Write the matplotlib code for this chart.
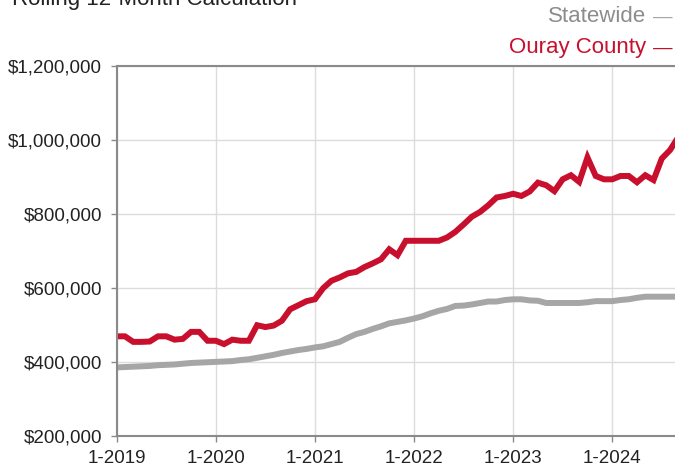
import matplotlib
matplotlib.use('Agg')
import matplotlib.pyplot as plt
from matplotlib.ticker import FuncFormatter

plt.rcParams['font.family'] = ['Liberation Sans', 'DejaVu Sans']

# monthly values, Jan 2019 .. Sep 2024 (rolling 12-month median price)
ouray = [470, 470, 455, 455, 456, 470, 470, 461, 463, 482, 482, 458,
         458, 449, 461, 458, 458, 500, 495, 499, 512, 543, 554, 565,
         570, 600, 620, 629, 640, 644, 657, 667, 678, 705, 689, 728,
         728, 728, 728, 728, 737, 752, 772, 793, 806, 824, 845, 849,
         855, 849, 861, 885, 878, 862, 894, 905, 887, 953, 903, 894,
         894, 903, 903, 886, 905, 892, 950, 973, 1008]
statewide = [386, 387, 388, 389, 390, 392, 393, 394, 396, 398, 399, 400,
             401, 402, 403, 406, 408, 412, 416, 420, 425, 429, 433, 436,
             440, 443, 449, 455, 466, 476, 482, 490, 497, 505, 509, 513,
             518, 524, 532, 539, 544, 552, 553, 556, 560, 564, 564, 568,
             570, 570, 567, 566, 560, 560, 560, 560, 560, 562, 565, 565,
             565, 568, 570, 574, 577, 577, 577, 577, 577]
year_labels = ['1-2019', '1-2020', '1-2021', '1-2022', '1-2023', '1-2024']

red = '#c8102e'
grey = '#a6a6a6'

months = list(range(len(ouray)))

fig = plt.figure(figsize=(6.75, 4.68), dpi=100)
ax = fig.add_axes([116.7 / 675, 1 - 436.3 / 468, 1 - 116.7 / 675, (436.3 - 66) / 468])

ax.plot(months, [v * 1000 for v in statewide], color=grey, lw=4.3, solid_joinstyle='miter')
ax.plot(months, [v * 1000 for v in ouray], color=red, lw=4.3, solid_joinstyle='miter')

ax.set_ylim(200000, 1200000)
ax.set_yticks(range(200000, 1200001, 200000))
ax.yaxis.set_major_formatter(FuncFormatter(lambda v, p: '${:,.0f}'.format(v)))
ax.set_xlim(0, 67.6)
ax.set_xticks([12 * i for i in range(len(year_labels))])
ax.set_xticklabels(year_labels)

ax.grid(True, color='#dcdcdc', lw=1)
ax.set_axisbelow(True)
for s in ['left', 'bottom', 'top']:
    ax.spines[s].set_color('#8a8a8a')
    ax.spines[s].set_linewidth(1.5)
ax.spines['right'].set_visible(False)
ax.tick_params(length=4.5, width=1, color='#8a8a8a', labelsize=13.5, labelcolor='#222222')
ax.tick_params(axis='y', pad=6)
ax.tick_params(axis='x', pad=5.5)

fig.text(12 / 675, 1 - 5 / 468, 'Rolling 12-Month Calculation', fontsize=16, color='#222222', va='baseline')

# legend drawn as text at the top right
fig.text(646 / 675, 1 - 17 / 468, 'Statewide', ha='right', va='center', fontsize=16, color='#8c8c8c')
fig.text(653 / 675, 1 - 17 / 468, '\u2014', ha='left', va='center', fontsize=14, color=grey)
fig.text(646 / 675, 1 - 48 / 468, 'Ouray County', ha='right', va='center', fontsize=16, color=red)
fig.text(653 / 675, 1 - 48 / 468, '\u2014', ha='left', va='center', fontsize=14, color=red)

fig.savefig('out.png', dpi=100)
